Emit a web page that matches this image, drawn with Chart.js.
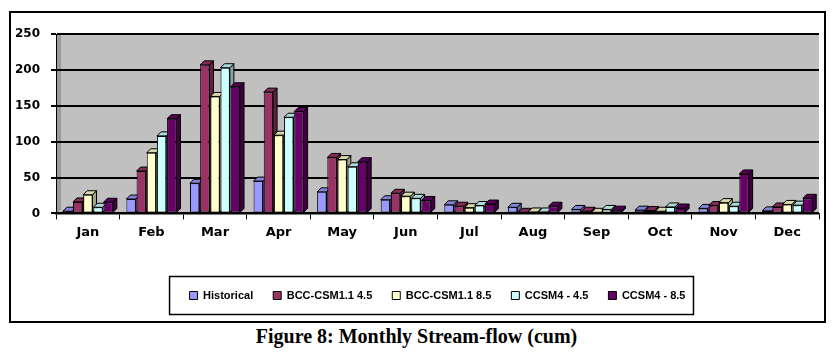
<!DOCTYPE html>
<html>
<head>
<meta charset="utf-8">
<script src="https://cdn.jsdelivr.net/npm/chart.js@4.4.1/dist/chart.umd.min.js"></script>
<style>
  body { margin: 0; background: #fff; width: 833px; height: 359px; overflow: hidden; position: relative; }
  #frame { position: absolute; left: 9px; top: 11px; width: 817px; height: 312px; border: 2px solid #000; box-sizing: border-box; }
  #wrap { position: absolute; left: 0; top: 0; width: 833px; height: 322px; }
  #caption { position: absolute; left: 0; width: 833px; top: 325px; text-align: center;
    font-family: "Liberation Serif", serif; font-weight: bold; font-size: 20px; color: #000; }
</style>
</head>
<body>
<div id="frame"></div>
<div id="wrap"><canvas id="chartGraph"></canvas></div>
<div id="caption">Figure 8: Monthly Stream-flow (cum)</div>
<script>
const ctx = document.getElementById('chartGraph');

// values
const months = ['Jan', 'Feb', 'Mar', 'Apr', 'May', 'Jun', 'Jul', 'Aug', 'Sep', 'Oct', 'Nov', 'Dec'];
const historical = [3, 20, 42, 45, 30, 19, 12, 8.5, 5.5, 4.5, 7, 3.5];
const bcc45 = [16, 59, 207, 169, 78, 28, 10, 1.5, 3, 4, 11, 9];
const bcc85 = [26, 84.5, 163, 109, 75, 24, 8, 2, 1.5, 3, 15, 12.5];
const ccsm45 = [8.5, 108, 203, 134, 65, 21, 11, 2, 5.5, 9, 10, 11.5];
const ccsm85 = [15.5, 132, 176.5, 142, 72, 18, 13, 10, 4.5, 7.5, 55, 21];
const yTicks = [0, 50, 100, 150, 200, 250];

const seriesNames = ['Historical', 'BCC-CSM1.1 4.5', 'BCC-CSM1.1 8.5', 'CCSM4 - 4.5', 'CCSM4 - 8.5'];
const seriesData = [historical, bcc45, bcc85, ccsm45, ccsm85];
const seriesColors = ['#9999FF', '#993366', '#FFFFCC', '#CCFFFF', '#660066'];

const DEPTH = 4;

function shade(hex, f) {
  let r = parseInt(hex.substr(1, 2), 16), g = parseInt(hex.substr(3, 2), 16), b = parseInt(hex.substr(5, 2), 16);
  return 'rgb(' + Math.round(r * f) + ',' + Math.round(g * f) + ',' + Math.round(b * f) + ')';
}

// grey wall behind the bars
const wallPlugin = {
  id: 'wall',
  beforeDraw(chart) {
    const a = chart.chartArea, c = chart.ctx;
    c.save();
    c.fillStyle = '#C0C0C0';
    c.fillRect(a.left, a.top, a.right - a.left, a.bottom - a.top);
    c.fillStyle = '#9a9a9a';
    c.beginPath();
    c.moveTo(a.left, a.top + 2);
    c.lineTo(a.left + 5, a.top - 1);
    c.lineTo(a.left + 5, a.bottom - 4);
    c.lineTo(a.left, a.bottom);
    c.closePath();
    c.fill();
    c.restore();
  }
};

// side and top faces so the bars look like the 3-D columns
const depthPlugin = {
  id: 'depth',
  beforeDatasetsDraw(chart) {
    const c = chart.ctx;
    c.save();
    c.lineWidth = 1;
    c.strokeStyle = '#000';
    chart.data.datasets.forEach((ds, i) => {
      const meta = chart.getDatasetMeta(i);
      meta.data.forEach((bar) => {
        const l = bar.x - bar.width / 2, r = bar.x + bar.width / 2;
        const t = bar.y, b = bar.base;
        c.fillStyle = shade(seriesColors[i], 0.65);
        c.beginPath();
        c.moveTo(r, t); c.lineTo(r + DEPTH, t - DEPTH); c.lineTo(r + DEPTH, b - DEPTH); c.lineTo(r, b);
        c.closePath(); c.fill(); c.stroke();
        c.fillStyle = shade(seriesColors[i], 0.85);
        c.beginPath();
        c.moveTo(l, t); c.lineTo(l + DEPTH, t - DEPTH); c.lineTo(r + DEPTH, t - DEPTH); c.lineTo(r, t);
        c.closePath(); c.fill(); c.stroke();
      });
    });
    c.restore();
  }
};

// box round the legend
const legendBoxPlugin = {
  id: 'legendBox',
  afterDraw(chart) {
    const boxes = chart.legend.legendHitBoxes;
    if (!boxes || !boxes.length) return;
    let minL = Infinity, maxR = -Infinity, cy = 0;
    boxes.forEach((h) => {
      minL = Math.min(minL, h.left);
      maxR = Math.max(maxR, h.left + h.width);
      cy = h.top + h.height / 2;
    });
    const c = chart.ctx;
    c.save();
    c.strokeStyle = '#000';
    c.lineWidth = 1.5;
    c.strokeRect(minL - 20, cy - 19, (maxR - minL) + 28, 38);
    c.restore();
  }
};

let datasets = seriesNames.map((name, i) => ({
  label: name,
  data: seriesData[i],
  backgroundColor: seriesColors[i],
  borderColor: '#000',
  borderWidth: 1,
  borderSkipped: false,
  categoryPercentage: 0.8,
  barPercentage: 0.92
}));

const myChart = new Chart(ctx, {
  type: 'bar',
  data: { labels: months, datasets: datasets },
  options: {
    responsive: true,
    maintainAspectRatio: false,
    animation: false,
    layout: { padding: { left: 4, right: 14, top: 34, bottom: 11 } },
    scales: {
      y: {
        min: 0,
        max: 250,
        afterBuildTicks: (axis) => { axis.ticks = yTicks.map((v) => ({ value: v })); },
        border: { display: true, color: '#000', width: 1 },
        grid: { color: '#000', lineWidth: 2, tickLength: 5 },
        ticks: {
          color: '#000', padding: 11,
          font: { family: 'DejaVu Sans', weight: 'bold', size: 12 }
        }
      },
      x: {
        border: { display: true, color: '#000', width: 1.5 },
        grid: { display: true, drawOnChartArea: false, color: '#000', tickLength: 6, offset: true },
        ticks: {
          color: '#000', padding: 5,
          font: { family: 'DejaVu Sans', weight: 'bold', size: 13 }
        },
        afterFit: (scale) => { scale.height += 25; }
      }
    },
    plugins: {
      legend: {
        position: 'bottom',
        fullSize: false,
        labels: {
          color: '#000',
          boxWidth: 8,
          boxHeight: 8,
          padding: 20,
          font: { family: 'Liberation Sans', weight: 'bold', size: 11 }
        }
      },
      title: { display: false },
      tooltip: { enabled: false }
    }
  },
  plugins: [wallPlugin, depthPlugin, legendBoxPlugin]
});
</script>
</body>
</html>
